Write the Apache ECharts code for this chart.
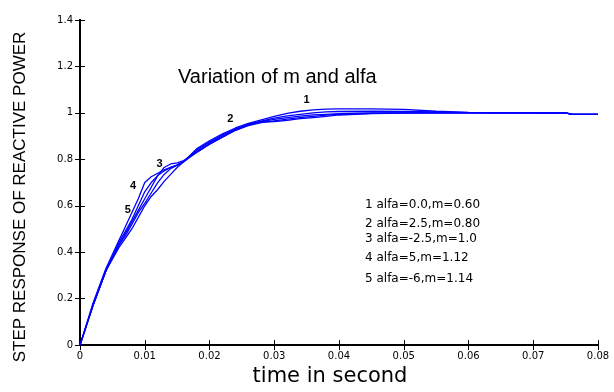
<!DOCTYPE html>
<html><head><meta charset="utf-8">
<script src="https://cdn.jsdelivr.net/npm/echarts@6/dist/echarts.min.js"></script>
<style>html,body{margin:0;padding:0;background:#fff}#c{width:614px;height:392px}</style>
</head><body><div id="c"></div>
<script>
const timeSec = [0, 0.002, 0.004, 0.006, 0.007, 0.008, 0.009, 0.010, 0.011, 0.012, 0.013, 0.014, 0.015, 0.016, 0.018, 0.020, 0.022, 0.024, 0.026, 0.028, 0.030, 0.032, 0.034, 0.036, 0.038, 0.040, 0.045, 0.050, 0.055, 0.060, 0.065, 0.070, 0.075, 0.076, 0.080];
const curve1 = [0, 0.17, 0.32, 0.42, 0.46, 0.50, 0.55, 0.60, 0.64, 0.67, 0.705, 0.735, 0.765, 0.79, 0.845, 0.88, 0.91, 0.935, 0.955, 0.97, 0.985, 0.998, 1.007, 1.013, 1.016, 1.017, 1.017, 1.015, 1.007, 1.002, 1.001, 1.0, 1.0, 0.994, 0.994];
const curve2 = [0, 0.17, 0.32, 0.43, 0.47, 0.52, 0.57, 0.61, 0.655, 0.70, 0.735, 0.76, 0.775, 0.79, 0.835, 0.87, 0.90, 0.93, 0.952, 0.965, 0.977, 0.987, 0.994, 1.0, 1.004, 1.006, 1.007, 1.006, 1.004, 1.001, 1.0, 1.0, 1.0, 0.994, 0.994];
const curve3 = [0, 0.17, 0.32, 0.43, 0.48, 0.53, 0.58, 0.63, 0.68, 0.73, 0.765, 0.78, 0.785, 0.795, 0.83, 0.865, 0.895, 0.925, 0.948, 0.962, 0.972, 0.98, 0.986, 0.991, 0.994, 0.997, 1.0, 1.0, 1.0, 1.0, 1.0, 1.0, 1.0, 0.994, 0.994];
const curve4 = [0, 0.18, 0.33, 0.45, 0.51, 0.57, 0.63, 0.70, 0.725, 0.74, 0.755, 0.765, 0.775, 0.79, 0.83, 0.865, 0.895, 0.925, 0.945, 0.958, 0.966, 0.973, 0.98, 0.985, 0.99, 0.994, 0.998, 1.0, 1.0, 1.0, 1.0, 1.0, 1.0, 0.994, 0.994];
const curve5 = [0, 0.17, 0.32, 0.44, 0.49, 0.54, 0.60, 0.66, 0.70, 0.73, 0.75, 0.765, 0.775, 0.79, 0.84, 0.875, 0.905, 0.93, 0.95, 0.96, 0.963, 0.968, 0.975, 0.98, 0.985, 0.991, 0.997, 0.999, 1.0, 1.0, 1.0, 1.0, 1.0, 0.994, 0.994];
const curveNames = ['1', '2', '3', '4', '5'];
const curveLabelPos = [[0.035, 1.055], [0.0232, 0.973], [0.0123, 0.782], [0.0082, 0.684], [0.0074, 0.583]];
const legendLines = ['1 alfa=0.0,m=0.60', '2 alfa=2.5,m=0.80', '3 alfa=-2.5,m=1.0', '4 alfa=5,m=1.12', '5 alfa=-6,m=1.14'];
const xTicks = [0, 0.01, 0.02, 0.03, 0.04, 0.05, 0.06, 0.07, 0.08];
const yTicks = [0, 0.2, 0.4, 0.6, 0.8, 1, 1.2, 1.4];
const yTitle = 'STEP RESPONSE OF REACTIVE POWER';

const allCurves = [curve1, curve2, curve3, curve4, curve5];
const chart = echarts.init(document.getElementById('c'));
const axisFont = {fontFamily: 'DejaVu Sans, Arial', fontSize: 10, color: '#000'};
const series = allCurves.map((c, i) => ({
  type: 'line', name: curveNames[i], showSymbol: false, symbol: 'none',
  data: timeSec.map((t, j) => [t, c[j]]),
  lineStyle: {color: '#0000ff', width: 1.3}, itemStyle: {color: '#0000ff'},
  animation: false,
  markPoint: {symbol: 'circle', symbolSize: 0, silent: true,
    label: {show: true, formatter: curveNames[i], color: '#000', fontSize: 11, fontWeight: 'bold', fontFamily: 'Liberation Sans, Arial'},
    data: [{coord: curveLabelPos[i]}]}
}));
const legendGraphics = legendLines.map((s, i) => ({
  type: 'text', left: 365, top: [199, 218, 233, 252, 273][i],
  style: {text: s, fontSize: 12, fontFamily: 'DejaVu Sans, Arial', fill: '#000'}
}));
legendGraphics.push({
  type: 'text', x: 12, y: 197, rotation: Math.PI / 2,
  style: {text: yTitle, fontSize: 17, fontFamily: 'Liberation Sans Narrow, Liberation Sans, Arial', fill: '#000', align: 'center', verticalAlign: 'top'}
});
chart.setOption({
  animation: false,
  grid: {left: 80, right: 16, top: 20, bottom: 34, show: false},
  title: {text: 'Variation of m and alfa', left: 173, top: 62,
    textStyle: {fontSize: 20, fontWeight: 'normal', fontFamily: 'Liberation Sans, Arial', color: '#000'}},
  xAxis: [{type: 'value', min: 0, max: 0.08, interval: 0.01,
    name: 'time in second', nameLocation: 'middle', nameGap: 19,
    nameTextStyle: {fontSize: 21, fontFamily: 'DejaVu Sans, Arial', color: '#000', padding: [0, 18, 0, 0]},
    axisLine: {show: true, lineStyle: {color: '#000', width: 2}},
    axisTick: {show: true, inside: true, length: 5, lineStyle: {color: '#000'}},
    axisLabel: Object.assign({margin: 6, formatter: v => String(+v.toFixed(2))}, axisFont),
    splitLine: {show: false}},
   {type: 'value', position: 'top', min: 0, max: 0.08, interval: 0.01,
    axisLine: {show: true, lineStyle: {color: '#000', width: 2}},
    axisTick: {show: true, inside: true, length: 5, lineStyle: {color: '#000'}},
    axisLabel: {show: false}, splitLine: {show: false}}],
  yAxis: [{type: 'value', min: 0, max: 1.4, interval: 0.2,
    axisLine: {show: true, lineStyle: {color: '#000', width: 2}},
    axisTick: {show: true, inside: true, length: 5, lineStyle: {color: '#000'}},
    axisLabel: Object.assign({margin: 7, formatter: v => String(+v.toFixed(1))}, axisFont),
    splitLine: {show: false}},
   {type: 'value', position: 'right', min: 0, max: 1.4, interval: 0.2,
    axisLine: {show: true, lineStyle: {color: '#000', width: 2}},
    axisTick: {show: true, inside: true, length: 5, lineStyle: {color: '#000'}},
    axisLabel: {show: false}, splitLine: {show: false}}],
  graphic: legendGraphics,
  series: series
});
</script></body></html>
